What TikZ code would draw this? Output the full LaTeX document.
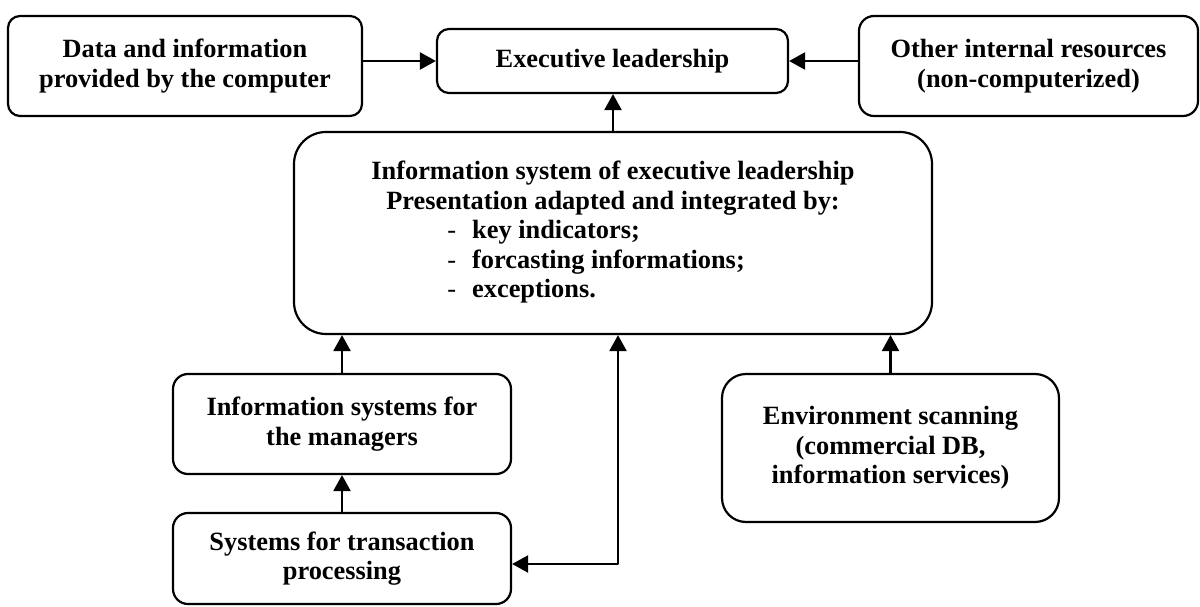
\documentclass[tikz,border=0pt]{standalone}
\usepackage{fontspec}
\setmainfont{Liberation Serif}
\usetikzlibrary{arrows.meta}

\begin{document}
\begin{tikzpicture}[line cap=round,line join=round,x=1.0cm,y=1.0cm,
	box/.style={draw,line width=1.25pt,rounded corners=0.24cm,align=center,inner sep=0pt,font=\fontsize{15}{16.8}\selectfont\bfseries},
	link/.style={line width=1.3pt,-{Triangle[length=0.32cm,width=0.34cm]}},
	twoway/.style={line width=1.3pt,{Triangle[length=0.32cm,width=0.34cm]}-{Triangle[length=0.32cm,width=0.34cm]}}]
	\useasboundingbox (0.,0.) rectangle (24.,12.12);
	% top row
	\node[box,minimum width=7.08cm,minimum height=2.0cm] (data) at (3.70,10.80) {Data and information\\provided by the computer};
	\node[box,minimum width=7.02cm,minimum height=1.28cm] (exec) at (12.25,10.90) {Executive leadership};
	\node[box,rounded corners=0.3cm,minimum width=6.78cm,minimum height=2.0cm] (other) at (20.57,10.80) {Other internal resources\\(non-computerized)};
	% middle
	\node[box,rounded corners=0.64cm,minimum width=12.76cm,minimum height=4.04cm] (eis) at (12.26,7.46) {\begin{tabular}{@{}l@{}}
		\multicolumn{1}{@{}c@{}}{Information system of executive leadership}\\
		\multicolumn{1}{@{}c@{}}{Presentation adapted and integrated by:}\\
		\hspace*{1.52cm}\textmd{-}\hspace{0.32cm}key indicators;\\
		\hspace*{1.52cm}\textmd{-}\hspace{0.32cm}forcasting informations;\\
		\hspace*{1.52cm}\textmd{-}\hspace{0.32cm}exceptions.
	\end{tabular}};
	% bottom
	\node[box,rounded corners=0.3cm,minimum width=6.76cm,minimum height=2.0cm] (mis) at (6.84,3.64) {Information systems for\\the managers};
	\node[box,rounded corners=0.3cm,minimum width=6.76cm,minimum height=1.82cm] (tps) at (6.84,0.95) {Systems for transaction\\processing};
	\node[box,rounded corners=0.48cm,minimum width=6.74cm,minimum height=2.96cm] (env) at (17.81,3.16) {Environment scanning\\(commercial DB,\\information services)};
	\coordinate (turn) at (12.36,0.84);

	\draw [link] (data.east |- exec.west) -- (exec.west);
	\draw [link] (other.west |- exec.east) -- (exec.east);
	\draw [link] (eis.north) -- (eis.north |- exec.south);
	\draw [link] (mis.north) -- (mis.north |- eis.south);
	\draw [link] (tps.north) -- (mis.south);
	\draw [link] (env.north) -- (env.north |- eis.south);
	\draw [twoway] (tps.east |- turn) -- (turn) -- (eis.south -| turn);
\end{tikzpicture}
\end{document}
